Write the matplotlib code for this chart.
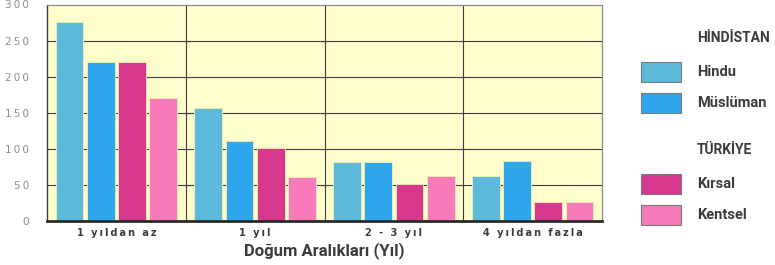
import numpy as np
import matplotlib.pyplot as plt
from matplotlib.patches import Rectangle

# data
categories = ["1 yıldan az", "1 yıl", "2 - 3 yıl", "4 yıldan fazla"]
hindu = [276, 156, 82, 62]
musluman = [221, 111, 82, 83]
kirsal = [220, 101, 51, 27]
kentsel = [170, 61, 62, 27]
yticks = [0, 50, 100, 150, 200, 250, 300]

series = [
    ("Hindu", hindu, "#5cb9da"),
    ("Müslüman", musluman, "#2ea6ee"),
    ("Kırsal", kirsal, "#d5388c"),
    ("Kentsel", kentsel, "#f77bbb"),
]

BG = "#fefdcb"
GRID = "#3c3c3c"
TXT = "#3b3b3b"


def spaced(s):
    # imitate the wide letter spacing of the printed labels
    return "\u2009".join(s)


fig = plt.figure(figsize=(7.75, 2.65), dpi=100)
ax = fig.add_axes([47 / 775, 44 / 265, 555 / 775, 216.5 / 265])
ax.set_facecolor(BG)

x = np.arange(len(categories))
width = 0.2
step = 0.225
offsets = (np.arange(len(series)) - 1.5) * step

for (name, vals, color), off in zip(series, offsets):
    ax.bar(x + off, vals, width=width, color=color, edgecolor="#f4f0b0",
           linewidth=0.6, zorder=3)

ax.set_xlim(-0.5, len(categories) - 0.5)
ax.set_ylim(0, 300)

for yv in yticks[1:-1]:
    ax.axhline(yv, color=GRID, linewidth=0.8, zorder=1)
for xv in x[:-1] + 0.5:
    ax.axvline(xv, color=GRID, linewidth=0.8, zorder=1)

for side in ["top", "right"]:
    ax.spines[side].set_color("#8a8a8a")
    ax.spines[side].set_linewidth(0.9)
ax.spines["left"].set_color(GRID)
ax.spines["left"].set_linewidth(1.0)
ax.spines["bottom"].set_color("#2a2a2a")
ax.spines["bottom"].set_linewidth(2.0)
ax.spines["bottom"].set_zorder(4)

ax.set_yticks(yticks)
ax.set_yticklabels([spaced(str(v)) for v in yticks], color="#8c8c8c",
                   fontsize=7.5)
ax.set_xticks(x)
ax.set_xticklabels([spaced(c) for c in categories], color=TXT, fontsize=7,
                   fontweight="bold")
ax.tick_params(axis="both", length=0, pad=5)
ax.tick_params(axis="y", pad=13)

ax.set_xlabel("Doğum Aralıkları (Yıl)", fontsize=12, fontweight="bold",
              family="Roboto", color=TXT, labelpad=3)

# legend drawn by hand in figure pixels
W, H = 775, 265


def fig_text(px, py, s, **kw):
    fig.text(px / W, 1 - py / H, s, va="center", ha="left", color=TXT,
             fontweight="bold", family="Roboto", **kw)


def fig_patch(py0, py1, color):
    fig.patches.append(Rectangle((641 / W, 1 - py1 / H), 40 / W,
                                 (py1 - py0) / H, transform=fig.transFigure,
                                 facecolor=color, edgecolor="#7a7a7a",
                                 linewidth=0.8))


fig_text(697, 38, "HİNDİSTAN", fontsize=10)
fig_text(697, 150, "TÜRKİYE", fontsize=10)
legend_rows = [(62, 82), (93, 113), (174, 194), (205, 225)]
for (name, vals, color), (y0, y1) in zip(series, legend_rows):
    fig_patch(y0, y1, color)
    fig_text(697, (y0 + y1) / 2, name, fontsize=10.5)

fig.savefig("out.png", dpi=100, facecolor="white")
